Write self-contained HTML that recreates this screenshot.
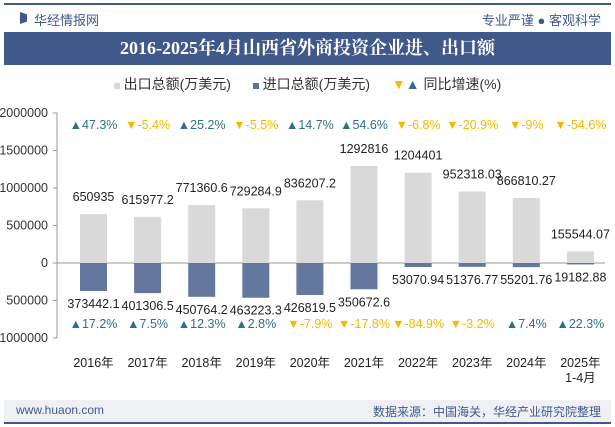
<!DOCTYPE html>
<html><head><meta charset="utf-8"><style>
body{margin:0;width:615px;height:427px;background:#fff;font-family:"Liberation Sans","Noto Sans CJK SC",sans-serif;overflow:hidden;position:relative}
.a{position:absolute}
</style></head><body>
<div class="a" style="left:4px;top:3px;width:607px;height:2px;background:#3f5a8a"></div>
<div class="a" style="left:20px;top:12px;width:7px;height:12px;background:#3f5a8a;clip-path:polygon(0 0,100% 20%,100% 80%,0 100%)"></div>
<div class="a" style="left:34px;top:10px;font-size:13px;color:#3f5a8a">华经情报网</div>
<div class="a" style="right:14px;top:10px;font-size:13px;color:#3f5a8a">专业严谨 ● 客观科学</div>
<div class="a" style="left:4px;top:32px;width:607px;height:33px;background:#3f5a8a;color:#fff;font-family:'Liberation Serif','Noto Serif CJK SC',serif;font-weight:bold;font-size:18px;text-align:center;line-height:33px">2016-2025年4月山西省外商投资企业进、出口额</div>
<div class="a" style="left:0;width:615px;top:74px;text-align:center;font-size:14px;color:#333">
<span><span style="display:inline-block;width:6px;height:6px;background:#d9d9d9"></span> 出口总额(万美元)</span>
<span style="margin-left:18px"><span style="display:inline-block;width:6px;height:6px;background:#5a72a0"></span> 进口总额(万美元)</span>
<span style="margin-left:18px"><span style="color:#f5b800">▼</span><span style="color:#2f6e8e">▲</span> 同比增速(%)</span>
</div>
<svg class="a" style="left:0;top:0" width="615" height="427" id="c"></svg>
<div class="a" style="left:4px;top:400px;width:607px;height:22px;background:#eef0f4;border-bottom:2px solid #3f5a8a"></div>
<div class="a" style="left:16px;top:403px;font-size:12px;color:#3f5a8a">www.huaon.com</div>
<div class="a" style="right:14px;top:403px;font-size:12px;color:#3f5a8a">数据来源：中国海关，华经产业研究院整理</div>
<script>
const years=["2016年","2017年","2018年","2019年","2020年","2021年","2022年","2023年","2024年","2025年"];
const exportVals=[650935,615977.2,771360.6,729284.9,836207.2,1292816,1204401,952318.03,866810.27,155544.07];
const importVals=[373442.1,401306.5,450764.2,463223.3,426819.5,350672.6,53070.94,51376.77,55201.76,19182.88];
const exportGrowth=[47.3,-5.4,25.2,-5.5,14.7,54.6,-6.8,-20.9,-9,-54.6];
const importGrowth=[17.2,7.5,12.3,2.8,-7.9,-17.8,-84.9,-3.2,7.4,22.3];
const ticks=[2000000,1500000,1000000,500000,0,-500000,-1000000];
const svg=document.getElementById('c');const NS='http://www.w3.org/2000/svg';
const y=v=>263-v*75/1000000;const x=i=>93.5+i*54.1;
function mk(t,a,txt){const e=document.createElementNS(NS,t);for(const k in a)e.setAttribute(k,a[k]);if(txt!==undefined)e.textContent=txt;svg.appendChild(e);return e;}
let ax=mk('line',{x1:57,x2:57,y1:y(2000000),y2:y(-1000000),stroke:'#999'});

ticks.forEach(t=>{const l=mk('line',{x1:53,x2:57,y1:y(t),y2:y(t),stroke:'#999'});

const tx=mk('text',{x:48,y:y(t)+4,'text-anchor':'end','font-size':12.5,fill:'#333'},String(Math.abs(t)));
});
let zl=mk('line',{x1:57,x2:605,y1:y(0),y2:y(0),stroke:'#999'});

years.forEach((yr,i)=>{const cx=x(i);
const b=mk('rect',{x:cx-13.5,y:y(exportVals[i]),width:27,height:y(0)-y(exportVals[i]),fill:'#d9d9d9'});

const b2=mk('rect',{x:cx-13.5,y:y(0),width:27,height:y(-importVals[i])-y(0),fill:'#64789f'});

const l1=mk('text',{x:cx,y:y(exportVals[i])-13,'text-anchor':'middle','font-size':12.5,fill:'#222'},String(exportVals[i]));

const l2=mk('text',{x:cx,y:y(-importVals[i])+17,'text-anchor':'middle','font-size':12.5,fill:'#222'},String(importVals[i]));

const g1=exportGrowth[i];const e1=mk('text',{x:cx,y:129,'text-anchor':'middle','font-size':12.5,fill:g1>=0?'#2f6e8e':'#f5b800'},(g1>=0?'▲':'▼')+g1+'%');

const g2=importGrowth[i];const e2=mk('text',{x:cx,y:328,'text-anchor':'middle','font-size':12.5,fill:g2>=0?'#2f6e8e':'#f5b800'},(g2>=0?'▲':'▼')+g2+'%');

const xl=mk('text',{x:cx,y:367,'text-anchor':'middle','font-size':12.5,fill:'#222'},yr);

});
const xs=mk('text',{x:x(9),y:382,'text-anchor':'middle','font-size':12.5,fill:'#222'},'1-4月');

</script>
</body></html>
